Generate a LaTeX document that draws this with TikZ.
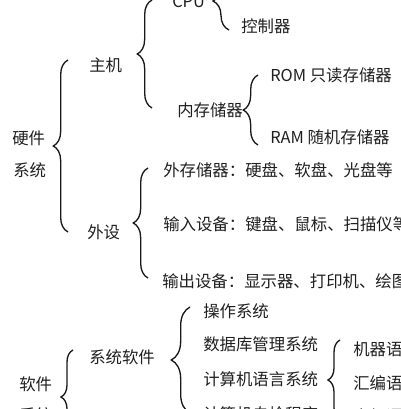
\documentclass[tikz,border=0pt]{standalone}
\usepackage{fontspec}
\newfontfamily\cjk{Noto Sans CJK SC}
\usetikzlibrary{decorations.pathreplacing}

\begin{document}
\begin{tikzpicture}[
  x=0.75pt, y=-0.75pt,
  lbl/.style={anchor=base west, inner sep=0pt, font=\cjk\fontsize{12.3}{14}\selectfont, text=black!88},
  grp/.style={decorate, decoration={brace, amplitude=#1}, line width=1pt, black!90},
  grp/.default=11pt
]
\useasboundingbox (0,0) rectangle (400,409);
\clip (0,0) rectangle (400,409);

% 硬件
\node[lbl] (hw) at (12,145) {硬件};
\node[lbl] (hwsys) at (13,177) {系统};
\node[lbl] (host) at (89,72) {主机};
\node[lbl] (periph) at (87,238) {外设};
\node[lbl] (cpu) at (172,8) {CPU};
\node[lbl] (ctrl) at (241,33) {控制器};
\node[lbl] (mem) at (177,117) {内存储器};
\node[lbl] (rom) at (270,82) {ROM 只读存储器};
\node[lbl] (ram) at (270,144) {RAM 随机存储器};
\node[lbl] (ext) at (163,177) {外存储器：硬盘、软盘、光盘等};
\node[lbl] (inp) at (163,230) {输入设备：键盘、鼠标、扫描仪等};
\node[lbl] (outp) at (162,287) {输出设备：显示器、打印机、绘图仪等};

% 软件
\node[lbl] (sw) at (19,390) {软件};
\node[lbl] (swsys) at (19,421) {系统};
\node[lbl] (sysw) at (89,363) {系统软件};
\node[lbl] (os) at (203,317) {操作系统};
\node[lbl] (dbms) at (203,350) {数据库管理系统};
\node[lbl] (lang) at (203,385) {计算机语言系统};
\node[lbl] (check) at (203,420) {计算机自检程序};
\node[lbl] (mach) at (353,355) {机器语言};
\node[lbl] (asm) at (353,389) {汇编语言};
\node[lbl] (high) at (353,422) {高级语言};

% braces, drawn bottom to top
\draw[grp=12pt] (229,30) -- (229,-28);
\draw[grp] (152,108) -- (152,0);
\draw[grp] (258,145) -- (258,75);
\draw[grp] (68,232) -- (68,60);
\draw[grp] (148,278) -- (148,168);
\draw[grp=14pt] (190,413) -- (190,307);
\draw[grp=9pt] (73,444) -- (73,350);
\draw[grp=9pt] (340,420) -- (340,340);
\end{tikzpicture}
\end{document}
